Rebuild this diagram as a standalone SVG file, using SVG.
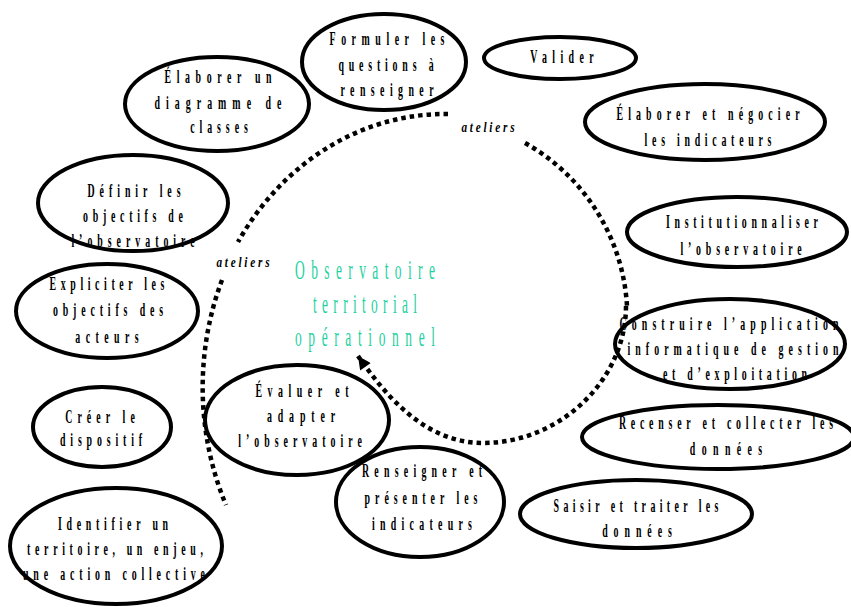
<svg xmlns="http://www.w3.org/2000/svg" width="851" height="607" viewBox="0 0 851 607">
  <style>
    .node ellipse { fill: none; stroke: #000; stroke-width: 4; }
    .t { font-family: "Liberation Serif", "Times New Roman", serif; font-weight: bold; font-size: 19px; fill: #000; text-anchor: middle; }
    .c { font-family: "Liberation Serif", "Times New Roman", serif; font-size: 27px; fill: #1fd1a0; text-anchor: middle; }
    .a { font-family: "Liberation Serif", "Times New Roman", serif; font-style: italic; font-weight: bold; font-size: 15px; fill: #000; text-anchor: middle; }
    .dots { fill: none; stroke: #000; stroke-width: 4.5; stroke-dasharray: 4.5 4; }
  </style>
  <defs>
    <marker id="head" viewBox="0 0 10 10" refX="10" refY="5" markerUnits="userSpaceOnUse" markerWidth="15" markerHeight="13" orient="auto">
      <path d="M0,0 L10,5 L0,10 z" fill="#000"/>
    </marker>
  </defs>
  <rect width="851" height="607" fill="#fff"/>

  <!-- workshop cycle -->
  <g id="connectors">
    <path class="dots" d="M448,114 A245,276 0 0,0 238,242"/>
    <path class="dots" d="M222,280 A245,276 0 0,0 226,505"/>
    <path class="dots" d="M525,143 A200,200 0 0,1 627,306"/>
    <path class="dots" d="M626,306 C626,380 560,443 483,443 C425,443 386,396 358,356" marker-end="url(#head)"/>
  </g>

  <g id="labels">
    <text class="a" transform="translate(243,267) scale(.75,1)" textLength="71" lengthAdjust="spacing">ateliers</text>
    <text class="a" transform="translate(488,132) scale(.75,1)" textLength="71" lengthAdjust="spacing">ateliers</text>
  </g>

  <g id="centre">
    <text class="c" transform="translate(365,279) scale(.5,1)" textLength="280" lengthAdjust="spacing">Observatoire</text>
    <text class="c" transform="translate(365,313) scale(.5,1)" textLength="208" lengthAdjust="spacing">territorial</text>
    <text class="c" transform="translate(365,346) scale(.5,1)" textLength="280" lengthAdjust="spacing">opérationnel</text>
  </g>

  <g id="formuler" class="node">
    <ellipse cx="384" cy="62" rx="82" ry="48"/>
    <text class="t" transform="translate(387,45) scale(.52,1)" textLength="221" lengthAdjust="spacing">Formuler les</text>
    <text class="t" transform="translate(386,71) scale(.52,1)" textLength="183" lengthAdjust="spacing">questions à</text>
    <text class="t" transform="translate(387,96) scale(.52,1)" textLength="179" lengthAdjust="spacing">renseigner</text>
  </g>

  <g id="valider" class="node">
    <ellipse cx="560" cy="58" rx="76" ry="21"/>
    <text class="t" transform="translate(562,63) scale(.52,1)" textLength="122" lengthAdjust="spacing">Valider</text>
  </g>

  <g id="negocier" class="node">
    <ellipse cx="705" cy="122" rx="120" ry="38"/>
    <text class="t" transform="translate(708,120) scale(.52,1)" textLength="352" lengthAdjust="spacing">Élaborer et négocier</text>
    <text class="t" transform="translate(708,146) scale(.52,1)" textLength="244" lengthAdjust="spacing">les indicateurs</text>
  </g>

  <g id="institutionnaliser" class="node">
    <ellipse cx="737" cy="232" rx="110" ry="35"/>
    <text class="t" transform="translate(742,228) scale(.52,1)" textLength="292" lengthAdjust="spacing">Institutionnaliser</text>
    <text class="t" transform="translate(741,255) scale(.52,1)" textLength="233" lengthAdjust="spacing">l’observatoire</text>
  </g>

  <g id="construire" class="node">
    <ellipse cx="730" cy="344" rx="115" ry="45"/>
    <text class="t" transform="translate(729,330) scale(.52,1)" textLength="421" lengthAdjust="spacing">Construire l’application</text>
    <text class="t" transform="translate(733,355) scale(.52,1)" textLength="406" lengthAdjust="spacing">informatique de gestion</text>
    <text class="t" transform="translate(735,380) scale(.52,1)" textLength="277" lengthAdjust="spacing">et d’exploitation</text>
  </g>

  <g id="recenser" class="node">
    <ellipse cx="718" cy="437" rx="136" ry="32"/>
    <text class="t" transform="translate(726,429) scale(.52,1)" textLength="412" lengthAdjust="spacing">Recenser et collecter les</text>
    <text class="t" transform="translate(726,455) scale(.52,1)" textLength="139" lengthAdjust="spacing">données</text>
  </g>

  <g id="saisir" class="node">
    <ellipse cx="636" cy="514" rx="116" ry="34"/>
    <text class="t" transform="translate(636,512) scale(.52,1)" textLength="317" lengthAdjust="spacing">Saisir et traiter les</text>
    <text class="t" transform="translate(637,537) scale(.52,1)" textLength="134" lengthAdjust="spacing">données</text>
  </g>

  <g id="renseigner" class="node">
    <ellipse cx="420" cy="502" rx="84" ry="55"/>
    <text class="t" transform="translate(422,477) scale(.52,1)" textLength="231" lengthAdjust="spacing">Renseigner et</text>
    <text class="t" transform="translate(421,504) scale(.52,1)" textLength="217" lengthAdjust="spacing">présenter les</text>
    <text class="t" transform="translate(422,530) scale(.52,1)" textLength="192" lengthAdjust="spacing">indicateurs</text>
  </g>

  <g id="evaluer" class="node">
    <ellipse cx="297" cy="420" rx="92" ry="55"/>
    <text class="t" transform="translate(302,397) scale(.52,1)" textLength="179" lengthAdjust="spacing">Évaluer et</text>
    <text class="t" transform="translate(301,422) scale(.52,1)" textLength="131" lengthAdjust="spacing">adapter</text>
    <text class="t" transform="translate(300,447) scale(.52,1)" textLength="238" lengthAdjust="spacing">l’observatoire</text>
  </g>

  <g id="identifier" class="node">
    <ellipse cx="116" cy="546" rx="106" ry="58"/>
    <text class="t" transform="translate(113,530) scale(.52,1)" textLength="212" lengthAdjust="spacing">Identifier un</text>
    <text class="t" transform="translate(115,555) scale(.52,1)" textLength="338" lengthAdjust="spacing">territoire, un enjeu,</text>
    <text class="t" transform="translate(114,580) scale(.52,1)" textLength="350" lengthAdjust="spacing">une action collective</text>
  </g>

  <g id="creer" class="node">
    <ellipse cx="102" cy="427" rx="69" ry="40"/>
    <text class="t" transform="translate(100,423) scale(.52,1)" textLength="134" lengthAdjust="spacing">Créer le</text>
    <text class="t" transform="translate(101,446) scale(.52,1)" textLength="158" lengthAdjust="spacing">dispositif</text>
  </g>

  <g id="expliciter" class="node">
    <ellipse cx="107" cy="311" rx="91" ry="47"/>
    <text class="t" transform="translate(107,290) scale(.52,1)" textLength="221" lengthAdjust="spacing">Expliciter les</text>
    <text class="t" transform="translate(108,316) scale(.52,1)" textLength="212" lengthAdjust="spacing">objectifs des</text>
    <text class="t" transform="translate(107,343) scale(.52,1)" textLength="122" lengthAdjust="spacing">acteurs</text>
  </g>

  <g id="definir" class="node">
    <ellipse cx="133" cy="203" rx="95" ry="48"/>
    <text class="t" transform="translate(134,197) scale(.52,1)" textLength="179" lengthAdjust="spacing">Définir les</text>
    <text class="t" transform="translate(133,222) scale(.52,1)" textLength="192" lengthAdjust="spacing">objectifs de</text>
    <text class="t" transform="translate(133,247) scale(.52,1)" textLength="237" lengthAdjust="spacing">l’observatoire</text>
  </g>

  <g id="diagramme" class="node">
    <ellipse cx="217" cy="104" rx="92" ry="47"/>
    <text class="t" transform="translate(218,83) scale(.52,1)" textLength="206" lengthAdjust="spacing">Élaborer un</text>
    <text class="t" transform="translate(218,109) scale(.52,1)" textLength="244" lengthAdjust="spacing">diagramme de</text>
    <text class="t" transform="translate(219,133) scale(.52,1)" textLength="111" lengthAdjust="spacing">classes</text>
  </g>
</svg>
